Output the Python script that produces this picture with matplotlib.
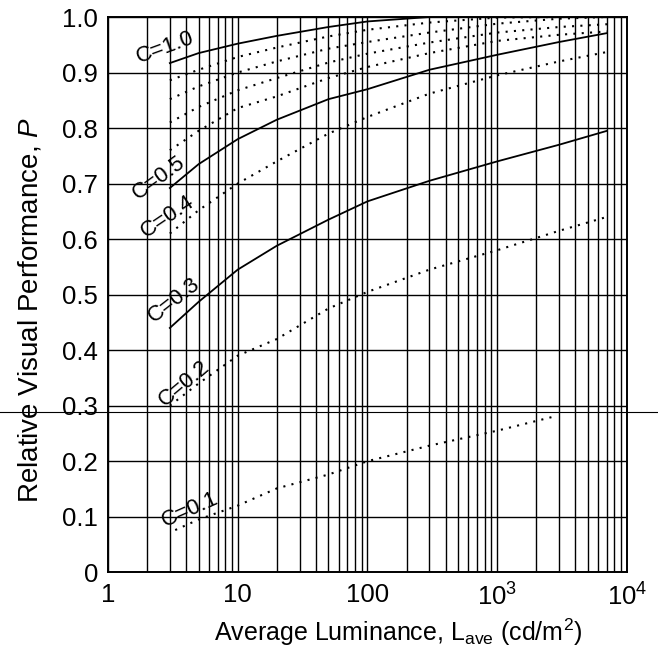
import matplotlib
matplotlib.use("Agg")
import matplotlib.pyplot as plt
from matplotlib.transforms import blended_transform_factory

# luminance points (cd/m^2)
lum = [3, 5, 10, 20, 50, 100, 300, 1000, 3000, 7000]
lum_01 = [3.3, 5, 10, 20, 50, 100, 300, 1000, 2800]

# relative visual performance per contrast
p_10 = [0.917, 0.935, 0.952, 0.966, 0.982, 0.992, 1.0, 1.0, 1.0, 1.0]
p_09 = [0.886, 0.905, 0.928, 0.945, 0.965, 0.977, 0.990, 0.999, 1.0, 1.0]
p_08 = [0.852, 0.875, 0.900, 0.920, 0.943, 0.955, 0.972, 0.988, 0.997, 1.0]
p_07 = [0.810, 0.838, 0.868, 0.890, 0.918, 0.934, 0.954, 0.972, 0.982, 0.987]
p_06 = [0.760, 0.795, 0.836, 0.857, 0.890, 0.910, 0.935, 0.957, 0.968, 0.974]
p_05 = [0.692, 0.735, 0.780, 0.815, 0.852, 0.870, 0.905, 0.932, 0.955, 0.971]
p_04 = [0.610, 0.652, 0.700, 0.740, 0.790, 0.820, 0.862, 0.895, 0.920, 0.937]
p_03 = [0.440, 0.487, 0.545, 0.588, 0.635, 0.668, 0.705, 0.740, 0.770, 0.795]
p_02 = [0.300, 0.340, 0.390, 0.420, 0.475, 0.505, 0.545, 0.580, 0.615, 0.640]
p_01 = [0.076, 0.095, 0.120, 0.151, 0.176, 0.200, 0.228, 0.255, 0.281]

# label text, position (L, P) and angle
labels = ["C=1.0", "C=0.5", "C=0.4", "C=0.3", "C=0.2", "C=0.1"]
label_L = [2.75, 2.45, 2.9, 3.25, 3.9, 4.3]
label_P = [0.945, 0.71, 0.64, 0.49, 0.34, 0.113]
label_rot = [20, 36, 34, 38, 40, 24]

plt.rcParams['font.family'] = ['Liberation Sans', 'DejaVu Sans']
plt.rcParams['mathtext.fontset'] = 'custom'
plt.rcParams['mathtext.rm'] = 'Liberation Sans'
plt.rcParams['mathtext.it'] = 'Liberation Sans:italic'

fig = plt.figure(figsize=(6.58, 6.54), dpi=100)
ax = fig.add_axes([0.164, 0.125, 0.789, 0.849])

solid = dict(color='black', lw=1.3)
dotted = dict(color='black', lw=1.5, linestyle=(0, (1, 3)))

ax.plot(lum, p_10, **solid)
ax.plot(lum, p_09, **dotted)
ax.plot(lum, p_08, **dotted)
ax.plot(lum, p_07, **dotted)
ax.plot(lum, p_06, **dotted)
ax.plot(lum, p_05, **solid)
ax.plot(lum, p_04, **dotted)
ax.plot(lum, p_03, **solid)
ax.plot(lum, p_02, **dotted)
ax.plot(lum_01, p_01, **dotted)

for t, x, y, r in zip(labels, label_L, label_P, label_rot):
    ax.text(x, y, t, rotation=r, ha='center', va='center', fontsize=16,
            rotation_mode='anchor')

ax.set_xscale('log')
ax.set_xlim(1, 1e4)
ax.set_ylim(0, 1.0)
ax.set_xticks([1, 10, 100, 1000, 10000])
ax.set_xticklabels(['1', '10', '100', '$10^3$', '$10^4$'])
ax.set_yticks([i / 10 for i in range(11)])
ax.set_yticklabels(['0'] + ['%.1f' % (i / 10) for i in range(1, 11)])
ax.tick_params(which='both', length=0, labelsize=18.5)
ax.tick_params(axis='x', pad=8)
ax.tick_params(axis='y', pad=7)

ax.grid(True, which='both', axis='x', color='black', lw=1.0)
ax.grid(True, which='major', axis='y', color='black', lw=1.0)
for s in ax.spines.values():
    s.set_linewidth(1.4)

ax.set_xlabel('Average Luminance, L$_{\\rm ave}$ (cd/m$^2$)', fontsize=18)
ax.set_ylabel('Relative Visual Performance, $\\it{P}$', fontsize=20)
ax.xaxis.set_label_coords(0.56, -0.08)
ax.yaxis.set_label_coords(-0.125, 0.473)

# stray scan line across the page
tr = blended_transform_factory(fig.transFigure, ax.transData)
ax.plot([0, 1], [0.289, 0.289], transform=tr, color='black', lw=0.8, clip_on=False)

plt.savefig('out.png', dpi=100)
